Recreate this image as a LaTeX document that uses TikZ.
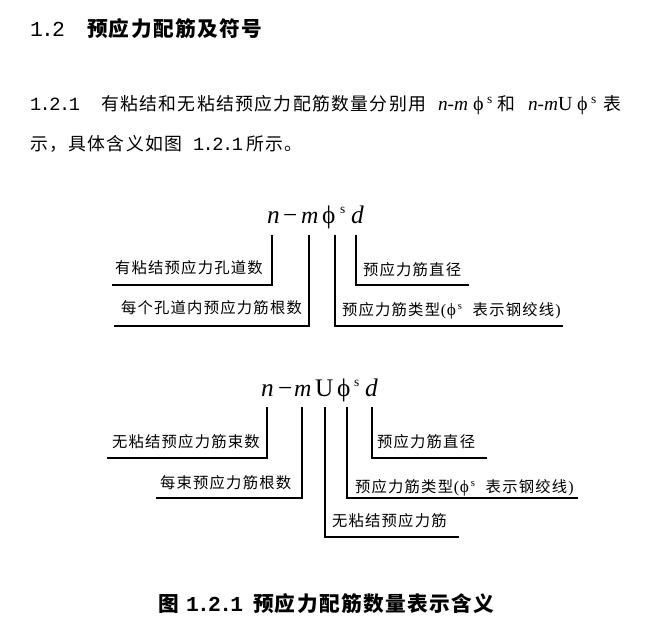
\documentclass[tikz,border=0pt]{standalone}
\usepackage{fontspec}
\setmainfont{Liberation Serif}
\newfontfamily\cjkbody[LetterSpace=8]{Noto Sans CJK SC}
\newfontfamily\cjkpara[LetterSpace=7.5]{Noto Sans CJK SC}
\newfontfamily\cjkhead[LetterSpace=6.5]{Noto Sans CJK SC}
\newfontfamily\monod[LetterSpace=-8]{Liberation Mono}
\newfontfamily\rmx{Liberation Serif}
\newcommand{\lblphi}{{\rmx\fontsize{12pt}{12pt}\selectfont\kern0.5pt(\kern0.5pt\fontsize{13pt}{13pt}\selectfont ϕ\kern1.5pt\raisebox{4pt}{\fontsize{8pt}{8pt}\selectfont s}\kern8pt}}
\newcommand{\lblclose}{{\rmx\fontsize{12pt}{12pt}\selectfont\kern0.8pt)}}
\tikzset{
  x=0.75pt,y=-0.75pt,
  txt/.style={inner sep=0pt,outer sep=0pt,anchor=base west},
  lbl/.style={txt,font=\fontsize{11.5pt}{11.5pt}\cjkbody},
  para/.style={txt,font=\fontsize{13.4pt}{13.4pt}\cjkpara},
  headtxt/.style={txt,font=\fontsize{15.5pt}{15.5pt}\cjkhead\bfseries},
  num/.style={txt,font=\fontsize{14pt}{14pt}\monod},
  numb/.style={txt,font=\fontsize{16pt}{16pt}\monod},
  numc/.style={txt,font=\fontsize{16pt}{16pt}\monod\bfseries},
  fml/.style={txt,font=\fontsize{19pt}{19pt}\rmx\itshape},
  fmlm/.style={txt,font=\fontsize{18pt}{18pt}\rmx\itshape},
  fmlr/.style={txt,font=\fontsize{19pt}{19pt}\rmx},
  supr/.style={txt,font=\fontsize{10pt}{10pt}\rmx},
  inl/.style={txt,font=\fontsize{14.5pt}{14.5pt}\rmx\itshape},
  inlr/.style={txt,font=\fontsize{15pt}{15pt}\rmx},
  conn/.style={draw=black,line width=0.8pt,line join=miter},
}
\begin{document}
\begin{tikzpicture}
\useasboundingbox (0,0) rectangle (650,643);
% heading
\node[numb] (h1) at (30,36) {1.2};
\node[headtxt] (h2) at (87,36) {预应力配筋及符号};
% paragraph
\node[num] (p1) at (30,110) {1.2.1};
\node[para] (p2) at (101,110) {有粘结和无粘结预应力配筋数量分别用};
\node[inl] (p3) at (438,110) {n-m};
\node[inlr] (p4) at (473,110) {ϕ};
\node[supr] (p5) at (487,103) {s};
\node[para] (p6) at (497,110) {和};
\node[inl] (p7) at (528,110) {n-m};
\node[inlr] (p8) at (558,110) {U};
\node[inlr] (p9) at (577,110) {ϕ};
\node[supr] (p10) at (591,103) {s};
\node[para] (p11) at (603,110) {表};
\node[para] (p12) at (30,150) {示，具体含义如图};
\node[num] (p13) at (193,150) {1.2.1};
\node[para] (p14) at (246,150) {所示。};
% formula 1
\node[fml] (a1) at (267,223) {n};
\node[fmlr] (a2) at (283,223) {−};
\node[fmlm] (a3) at (301,223) {m};
\node[fmlr] (a4) at (322,223) {ϕ};
\node[supr] (a5) at (340,213) {s};
\node[fml] (a6) at (351,223) {d};
\node[lbl] (l1) at (115,273) {有粘结预应力孔道数};
\node[lbl] (l2) at (121,313) {每个孔道内预应力筋根数};
\node[lbl] (l3) at (363,275) {预应力筋直径};
\node[lbl] (l4) at (342,315) {预应力筋类型\lblphi 表示钢绞线\lblclose};
\coordinate (c1t) at (272,235); \coordinate (c1e) at (112,285);
\coordinate (c2t) at (309,235); \coordinate (c2e) at (114,326);
\coordinate (c3t) at (335,235); \coordinate (c3e) at (563,326);
\coordinate (c4t) at (356,235); \coordinate (c4e) at (469,285);
\draw[conn] (c1t) |- (c1e);
\draw[conn] (c2t) |- (c2e);
\draw[conn] (c3t) |- (c3e);
\draw[conn] (c4t) |- (c4e);
% formula 2
\node[fml] (b1) at (261,396) {n};
\node[fmlr] (b2) at (278,396) {−};
\node[fmlm] (b3) at (294,396) {m};
\node[fmlr] (b4) at (315,396) {U};
\node[fmlr] (b5) at (337,396) {ϕ};
\node[supr] (b6) at (354,386) {s};
\node[fml] (b7) at (365,396) {d};
\node[lbl] (m1) at (112,447) {无粘结预应力筋束数};
\node[lbl] (m2) at (160,488) {每束预应力筋根数};
\node[lbl] (m3) at (377,447) {预应力筋直径};
\node[lbl] (m4) at (355,492) {预应力筋类型\lblphi 表示钢绞线\lblclose};
\node[lbl] (m5) at (332,526) {无粘结预应力筋};
\coordinate (d1t) at (267,407); \coordinate (d1e) at (107,458);
\coordinate (d2t) at (302,407); \coordinate (d2e) at (156,498);
\coordinate (d3t) at (325,407); \coordinate (d3e) at (459,537);
\coordinate (d4t) at (347,407); \coordinate (d4e) at (578,498);
\coordinate (d5t) at (372,407); \coordinate (d5e) at (487,458);
\draw[conn] (d1t) |- (d1e);
\draw[conn] (d2t) |- (d2e);
\draw[conn] (d3t) |- (d3e);
\draw[conn] (d4t) |- (d4e);
\draw[conn] (d5t) |- (d5e);
% caption
\node[headtxt] (k1) at (158,611) {图};
\node[numc] (k2) at (186,611) {1.2.1};
\node[headtxt] (k3) at (253,611) {预应力配筋数量表示含义};
\end{tikzpicture}
\end{document}
